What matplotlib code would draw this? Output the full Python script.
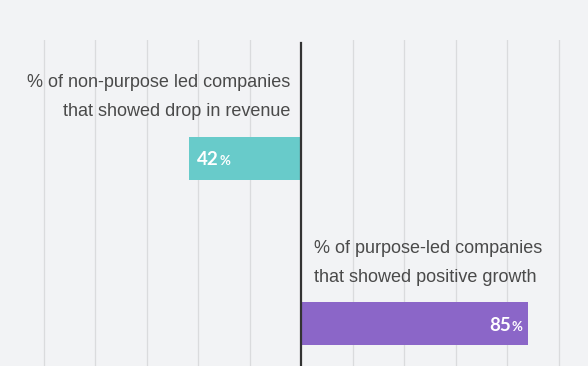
import matplotlib.pyplot as plt
from matplotlib.transforms import offset_copy

# data
categories = ['non-purpose', 'purpose-led']
values = [-42, 85]
value_labels = ['42', '85']
bar_colors = ['#68cbca', '#8b66c8']
label_lines = [
    ['% of non-purpose led companies', 'that showed drop in revenue'],
    ['% of purpose-led companies', 'that showed positive growth'],
]

bg = '#f2f3f5'
fig = plt.figure(figsize=(5.88, 3.66), dpi=100, facecolor=bg)
ax = fig.add_axes([0, 0, 1, 326 / 366])
ax.set_facecolor(bg)

scale = 2.67          # pixels per percent
step = 51.5 / scale   # gridline spacing in data units
ax.set_xlim(-301 / scale, 287 / scale)
ax.set_ylim(1.254, -0.716)

for k in range(-5, 6):
    if k != 0:
        ax.axvline(k * step, color='#dadbdd', lw=0.9, zorder=0)
ax.axvline(0, color='#333333', lw=1.6, zorder=3, ymax=0.99)

ypos = list(range(len(categories)))
ax.barh(ypos, values, height=0.26, color=bar_colors, zorder=2)

for i, v in enumerate(values):
    # two-line description above each bar
    if v < 0:
        dx, ha = -11, 'right'
    else:
        dx, ha = 13, 'left'
    for j, line in enumerate(label_lines[i]):
        tr = offset_copy(ax.transData, fig=fig, x=dx, y=71 - 29 * j, units='dots')
        ax.text(0, i, line, transform=tr, ha=ha, va='baseline',
                fontsize=13.0, color='#4a4a4a', family='Liberation Sans')

    # value label inside the bar
    if v < 0:
        tr = offset_copy(ax.transData, fig=fig, x=8, y=-7, units='dots')
        t = ax.text(v, i, value_labels[i], transform=tr, ha='left', va='baseline',
                    fontsize=13.5, fontweight='bold', color='white', family='Lato')
        ax.annotate('%', xy=(1, 0), xycoords=t, xytext=(0.3, 1), textcoords='offset points',
                    ha='left', va='bottom',
                    fontsize=9.5, fontweight='bold', color='white', family='Lato')
    else:
        tr = offset_copy(ax.transData, fig=fig, x=-6, y=-7, units='dots')
        t = ax.text(v, i, '%', transform=tr, ha='right', va='baseline',
                    fontsize=9.5, fontweight='bold', color='white', family='Lato')
        ax.annotate(value_labels[i], xy=(0, 0), xycoords=t, xytext=(-0.3, -1), textcoords='offset points',
                    ha='right', va='bottom',
                    fontsize=13.5, fontweight='bold', color='white', family='Lato')

ax.set_xticks([])
ax.set_yticks([])
for s in ax.spines.values():
    s.set_visible(False)

plt.savefig('out.png', dpi=100, facecolor=bg)
